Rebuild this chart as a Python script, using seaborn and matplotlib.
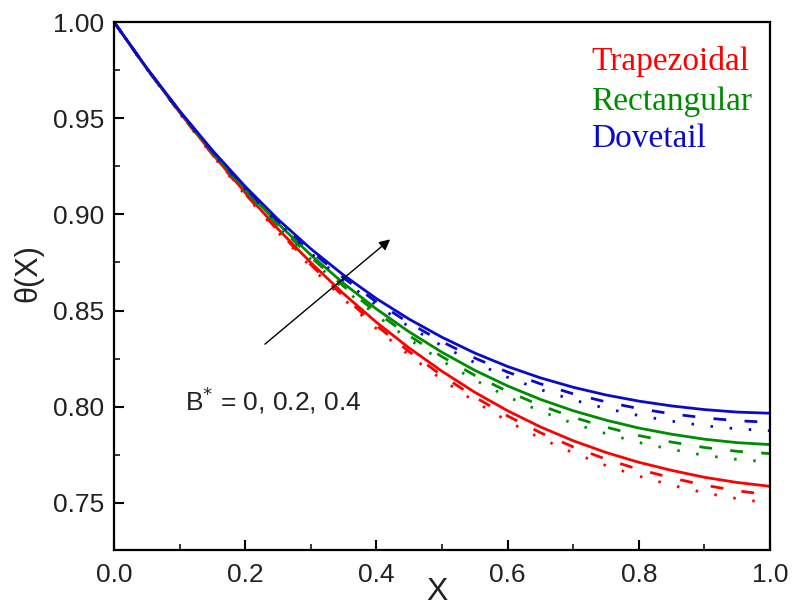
import numpy as np
import pandas as pd
import matplotlib
matplotlib.use("Agg")
import matplotlib.pyplot as plt
import seaborn as sns
from matplotlib.ticker import MultipleLocator, FormatStrFormatter

# ---- data ----
X = [0.00, 0.05, 0.10, 0.15, 0.20, 0.25, 0.30, 0.35, 0.40, 0.45, 0.50,
     0.55, 0.60, 0.65, 0.70, 0.75, 0.80, 0.85, 0.90, 0.95, 1.00]

blue_B0 = [1.0000, 0.9760, 0.9538, 0.9333, 0.9145, 0.8974, 0.8821, 0.8684, 0.8562, 0.8455, 0.8361,
           0.8279, 0.8209, 0.8150, 0.8101, 0.8061, 0.8029, 0.8004, 0.7985, 0.7972, 0.7966]
blue_B2 = [1.0000, 0.9759, 0.9536, 0.9329, 0.9138, 0.8965, 0.8809, 0.8669, 0.8545, 0.8435, 0.8338,
           0.8253, 0.8180, 0.8119, 0.8067, 0.8025, 0.7990, 0.7963, 0.7942, 0.7927, 0.7919]
blue_B4 = [1.0000, 0.9758, 0.9533, 0.9325, 0.9132, 0.8957, 0.8798, 0.8656, 0.8528, 0.8416, 0.8316,
           0.8229, 0.8153, 0.8089, 0.8035, 0.7991, 0.7954, 0.7925, 0.7901, 0.7885, 0.7875]

green_B0 = [1.0000, 0.9759, 0.9534, 0.9325, 0.9131, 0.8952, 0.8789, 0.8641, 0.8508, 0.8389, 0.8283,
            0.8189, 0.8108, 0.8038, 0.7979, 0.7930, 0.7889, 0.7857, 0.7831, 0.7813, 0.7803]
green_B2 = [1.0000, 0.9758, 0.9532, 0.9321, 0.9124, 0.8943, 0.8777, 0.8626, 0.8491, 0.8369, 0.8260,
            0.8163, 0.8079, 0.8007, 0.7945, 0.7894, 0.7850, 0.7816, 0.7788, 0.7768, 0.7756]
green_B4 = [1.0000, 0.9757, 0.9529, 0.9317, 0.9118, 0.8935, 0.8766, 0.8613, 0.8474, 0.8350, 0.8238,
            0.8139, 0.8052, 0.7977, 0.7913, 0.7860, 0.7814, 0.7778, 0.7747, 0.7726, 0.7712]

red_B0 = [1.0000, 0.9758, 0.9530, 0.9315, 0.9113, 0.8924, 0.8749, 0.8587, 0.8439, 0.8305, 0.8184,
          0.8075, 0.7979, 0.7895, 0.7823, 0.7762, 0.7711, 0.7669, 0.7633, 0.7606, 0.7586]
red_B2 = [1.0000, 0.9757, 0.9528, 0.9311, 0.9107, 0.8915, 0.8738, 0.8573, 0.8422, 0.8286, 0.8162,
          0.8050, 0.7952, 0.7865, 0.7791, 0.7727, 0.7674, 0.7630, 0.7592, 0.7563, 0.7541]
red_B4 = [1.0000, 0.9756, 0.9526, 0.9307, 0.9101, 0.8907, 0.8727, 0.8560, 0.8406, 0.8267, 0.8141,
          0.8027, 0.7925, 0.7836, 0.7760, 0.7694, 0.7639, 0.7592, 0.7552, 0.7522, 0.7498]

fin_types = ["Trapezoidal", "Rectangular", "Dovetail"]
b_values = ["0", "0.2", "0.4"]
x_ticks = [0.0, 0.2, 0.4, 0.6, 0.8, 1.0]
y_ticks = [0.75, 0.80, 0.85, 0.90, 0.95, 1.00]
annotation_text = r"B$^{*}$ = 0, 0.2, 0.4"

# ---- styling ----
sns.set_theme(style="white")
plt.rcParams["font.family"] = ["Liberation Sans", "DejaVu Sans"]

colors = {"Trapezoidal": "#ff0000", "Rectangular": "#008c00", "Dovetail": "#0a0acc"}
dash_styles = {"0": None, "0.2": (4.6, 6.6), "0.4": (0.9, 6.0)}

series = {
    ("Trapezoidal", "0"): red_B0, ("Trapezoidal", "0.2"): red_B2, ("Trapezoidal", "0.4"): red_B4,
    ("Rectangular", "0"): green_B0, ("Rectangular", "0.2"): green_B2, ("Rectangular", "0.4"): green_B4,
    ("Dovetail", "0"): blue_B0, ("Dovetail", "0.2"): blue_B2, ("Dovetail", "0.4"): blue_B4,
}

fig = plt.figure(figsize=(7.94, 6.09), dpi=100)
ax = fig.add_axes([114 / 794, 1 - 550 / 609, (770 - 114) / 794, (550 - 22) / 609])

for fin in fin_types:
    for b in b_values:
        df = pd.DataFrame({"X": X, "theta": series[(fin, b)]})
        n_before = len(ax.lines)
        sns.lineplot(data=df, x="X", y="theta", ax=ax, color=colors[fin],
                     linewidth=2.0, legend=False, sort=False)
        line = ax.lines[n_before]
        if dash_styles[b] is not None:
            line.set_dashes(dash_styles[b])
            line.set_dash_capstyle("butt")

ax.set_xlim(0.0, 1.0)
ax.set_ylim(0.7255, 1.0)
ax.set_xticks(x_ticks)
ax.set_yticks(y_ticks)
ax.xaxis.set_minor_locator(MultipleLocator(0.1))
ax.yaxis.set_minor_locator(MultipleLocator(0.025))
ax.xaxis.set_major_formatter(FormatStrFormatter("%.1f"))
ax.yaxis.set_major_formatter(FormatStrFormatter("%.2f"))
ax.tick_params(axis="both", which="major", direction="in", length=7, width=1.5,
               labelsize=19, color="black", labelcolor="#222222",
               bottom=True, left=True, top=False, right=False)
ax.tick_params(axis="x", which="major", pad=9)
ax.tick_params(axis="y", which="major", pad=7)
ax.tick_params(axis="both", which="minor", direction="in", length=4, width=1.3,
               bottom=True, left=True, top=False, right=False)
for s in ax.spines.values():
    s.set_color("black")
    s.set_linewidth(1.6)

ax.set_xlabel("X", fontsize=23, color="#222222")
ax.xaxis.set_label_coords(0.492, -0.052)
ax.set_ylabel("θ(X)", fontsize=22, color="#222222")
ax.yaxis.set_label_coords(-0.108, 0.525)

# colored labels (legend-like texts)
ytxt = [0.925, 0.849, 0.779]
for fin, yy in zip(fin_types, ytxt):
    ax.text(0.727, yy, fin, transform=ax.transAxes, color=colors[fin],
            fontsize=24, family=["Liberation Serif", "DejaVu Serif"], va="center", ha="left")

# arrow + annotation
ax.annotate("", xy=(0.421, 0.8870), xytext=(0.230, 0.8325),
            arrowprops=dict(arrowstyle="-|>", color="black", lw=1.0,
                            mutation_scale=16, shrinkA=0, shrinkB=0))
ax.text(0.108, 0.8035, annotation_text, fontsize=19, color="#222222",
        va="center", ha="left")

fig.savefig("out.png", dpi=100, facecolor="white")
